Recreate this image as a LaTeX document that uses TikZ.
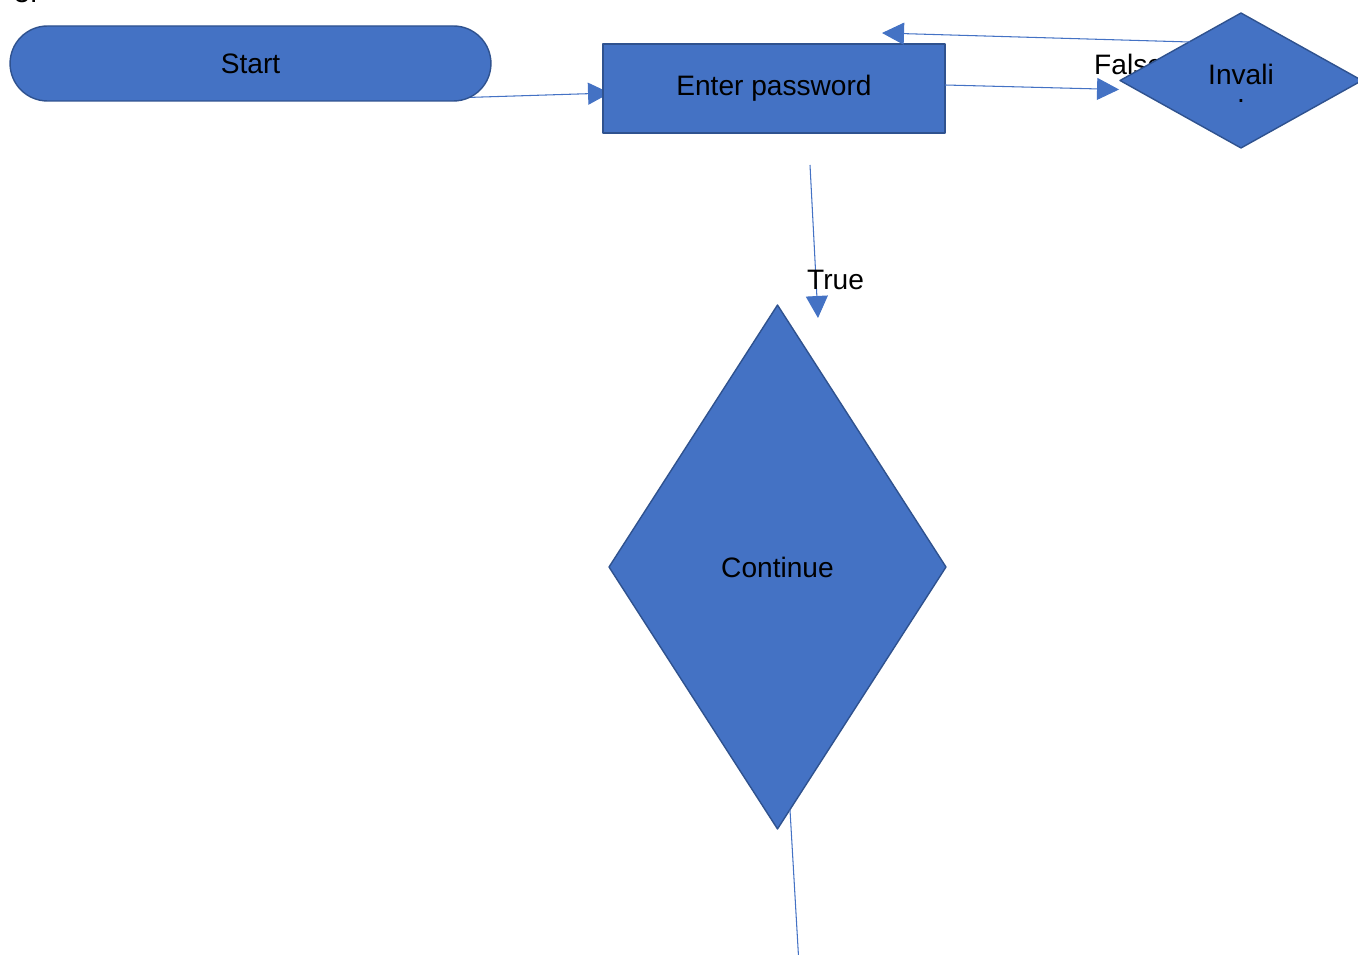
\documentclass[tikz,border=0pt]{standalone}
\usepackage{fontspec}
\setmainfont{Liberation Sans}
\usetikzlibrary{shapes.geometric,arrows.meta,backgrounds}
\definecolor{boxblue}{HTML}{4472C4}
\definecolor{edgeblue}{HTML}{2F528F}
\begin{document}
\begin{tikzpicture}[x=0.02cm, y=-0.02cm, font=\fontsize{16}{19}\selectfont, line join=round,
	terminal/.style={draw=edgeblue, fill=boxblue, line width=0.8pt, rounded corners=0.75cm, minimum width=9.62cm, minimum height=1.5cm, inner sep=0pt, outer sep=0pt},
	process/.style={draw=edgeblue, fill=boxblue, line width=0.8pt, minimum width=6.84cm, minimum height=1.78cm, inner sep=0pt, outer sep=0pt},
	decision/.style={diamond, draw=edgeblue, fill=boxblue, line width=0.8pt, inner sep=0pt, outer sep=0pt, align=center},
	flowline/.style={draw=boxblue, line width=0.6pt, -{Triangle[length=0.44cm,width=0.44cm]}}]
	\useasboundingbox (0,0) rectangle (1358,955);
	\node[anchor=base west] (num) at (8,3) {3.};
	% shapes
	\node[terminal] (start) at (250.5,63.5) {Start};
	\node[process] (enter) at (774,88.5) {Enter password};
	\node[anchor=base west] (false) at (1088,75) {False};
	\node[decision, minimum width=4.84cm, minimum height=2.7cm] (invalid) at (1241,80.5) {};
	\node[align=center, anchor=north, inner sep=0pt] (invtext) at (1241,64) {Invali\\[-9pt].};
	\node[decision, minimum width=6.74cm, minimum height=10.48cm] (cont) at (777.5,567) {Continue};
	% connectors
	\coordinate (back) at (882,33);
	\coordinate (ttop) at (810,165);
	\coordinate (tend) at (818,318);
	\coordinate (out) at (799,965);
	\begin{pgfonlayer}{background}
		\draw[flowline] ([shift={(-40,-3)}]start.south east) -- ([shift={(7,4.5)}]enter.west);
	\end{pgfonlayer}
	\draw[flowline] ([shift={(0,-3.5)}]enter.east) -- ([shift={(-1,9)}]invalid.west);
	\draw[flowline] ([shift={(9.5,-4.75)}]invalid.north west) -- (back);
	\draw[flowline] (ttop) -- (tend);
	\node[anchor=base west] (true) at (801,290) {True};
	\draw[draw=boxblue, line width=0.6pt] ([shift={(12.5,-19)}]cont.south) -- (out);
\end{tikzpicture}
\end{document}
